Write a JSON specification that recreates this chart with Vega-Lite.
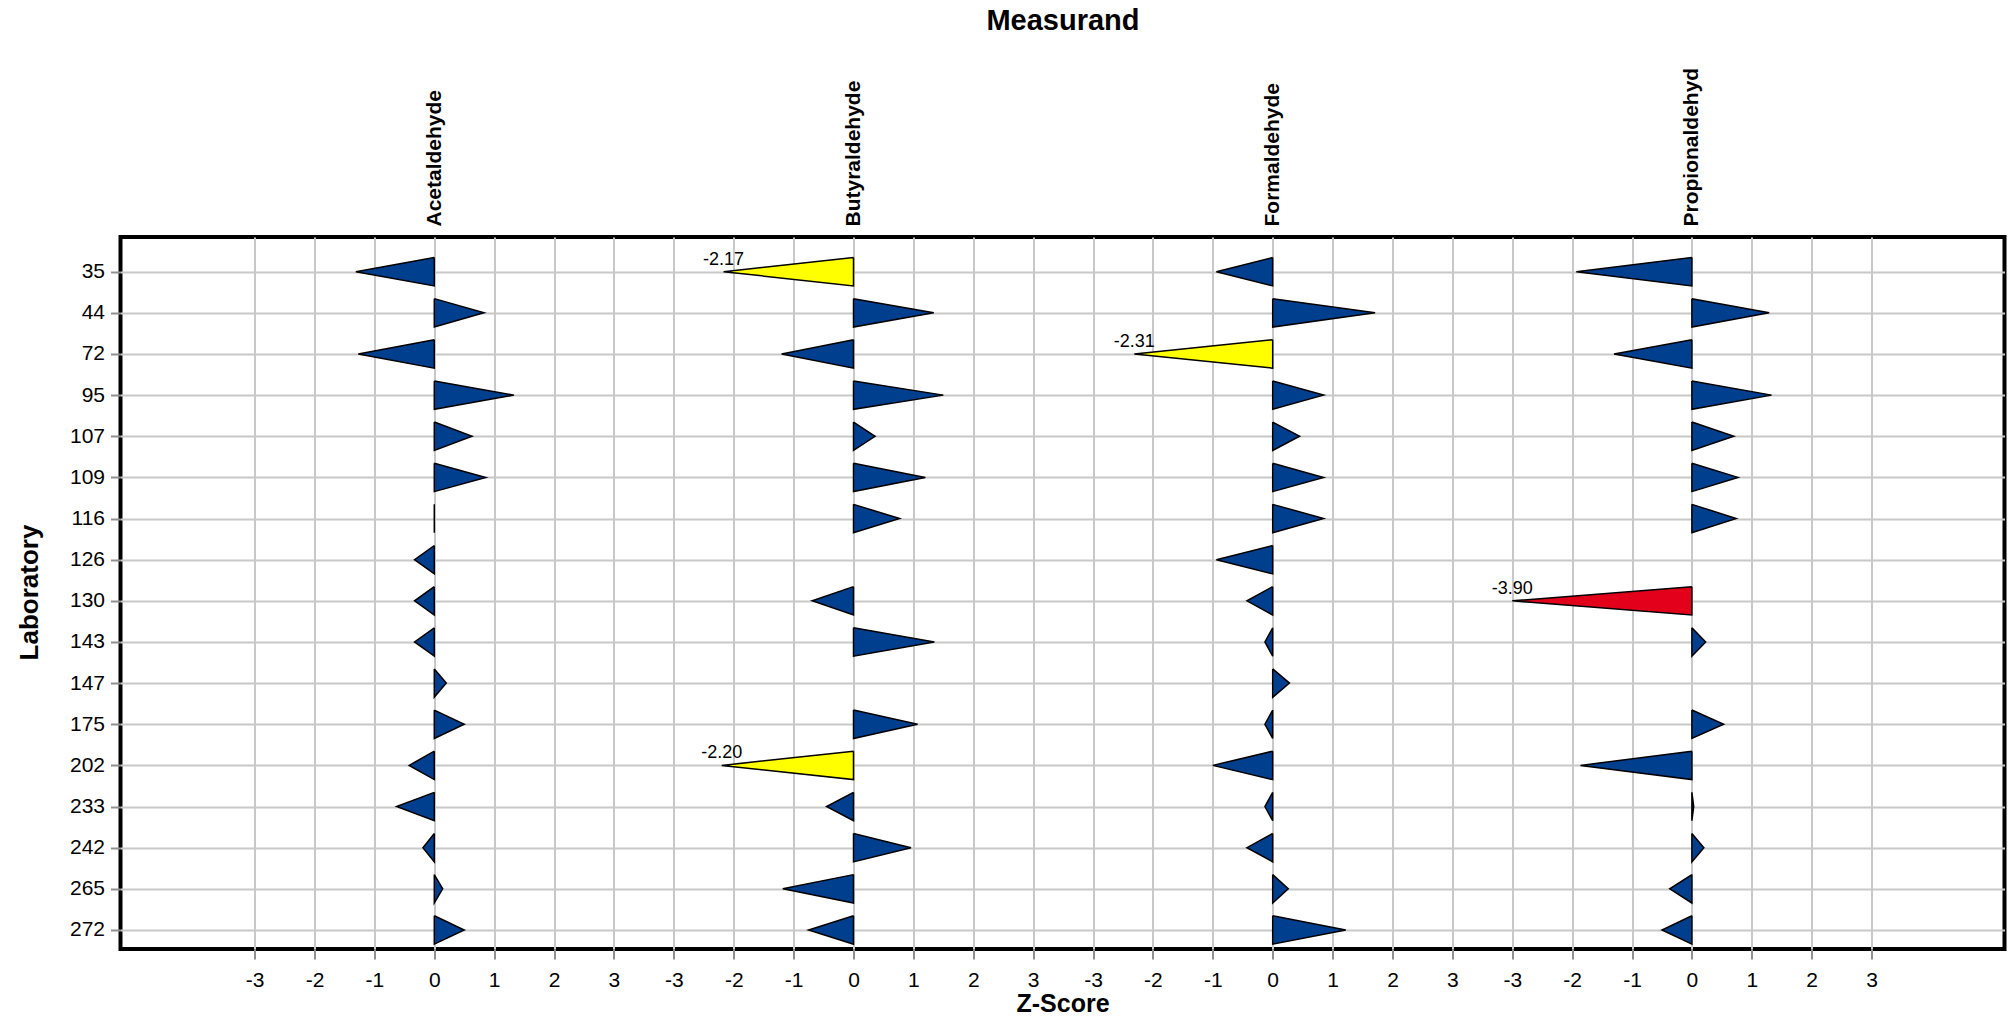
{
  "$schema": "https://vega.github.io/schema/vega-lite/v6.json",
  "width": 1884,
  "height": 712,
  "autosize": {"type": "none"},
  "padding": {"left": 120.5, "top": 237, "right": 6.5, "bottom": 74},
  "background": "white",
  "config": {
    "font": "Liberation Sans",
    "view": {"stroke": "black", "strokeWidth": 4},
    "locale": {"number": {"decimal": ".", "thousands": ",", "grouping": [3], "currency": ["$", ""], "minus": "-"}}
  },
  "data": {
    "values": [
      {"measurand": "Acetaldehyde", "lab": 35, "z": -1.31},
      {"measurand": "Acetaldehyde", "lab": 44, "z": 0.83},
      {"measurand": "Acetaldehyde", "lab": 72, "z": -1.27},
      {"measurand": "Acetaldehyde", "lab": 95, "z": 1.33},
      {"measurand": "Acetaldehyde", "lab": 107, "z": 0.63},
      {"measurand": "Acetaldehyde", "lab": 109, "z": 0.86},
      {"measurand": "Acetaldehyde", "lab": 116, "z": 0.0},
      {"measurand": "Acetaldehyde", "lab": 126, "z": -0.33},
      {"measurand": "Acetaldehyde", "lab": 130, "z": -0.33},
      {"measurand": "Acetaldehyde", "lab": 143, "z": -0.33},
      {"measurand": "Acetaldehyde", "lab": 147, "z": 0.2},
      {"measurand": "Acetaldehyde", "lab": 175, "z": 0.5},
      {"measurand": "Acetaldehyde", "lab": 202, "z": -0.42},
      {"measurand": "Acetaldehyde", "lab": 233, "z": -0.63},
      {"measurand": "Acetaldehyde", "lab": 242, "z": -0.19},
      {"measurand": "Acetaldehyde", "lab": 265, "z": 0.14},
      {"measurand": "Acetaldehyde", "lab": 272, "z": 0.5},
      {"measurand": "Butyraldehyde", "lab": 35, "z": -2.17},
      {"measurand": "Butyraldehyde", "lab": 44, "z": 1.34},
      {"measurand": "Butyraldehyde", "lab": 72, "z": -1.2},
      {"measurand": "Butyraldehyde", "lab": 95, "z": 1.5},
      {"measurand": "Butyraldehyde", "lab": 107, "z": 0.36},
      {"measurand": "Butyraldehyde", "lab": 109, "z": 1.2},
      {"measurand": "Butyraldehyde", "lab": 116, "z": 0.77},
      {"measurand": "Butyraldehyde", "lab": 130, "z": -0.69},
      {"measurand": "Butyraldehyde", "lab": 143, "z": 1.35},
      {"measurand": "Butyraldehyde", "lab": 175, "z": 1.07},
      {"measurand": "Butyraldehyde", "lab": 202, "z": -2.2},
      {"measurand": "Butyraldehyde", "lab": 233, "z": -0.45},
      {"measurand": "Butyraldehyde", "lab": 242, "z": 0.96},
      {"measurand": "Butyraldehyde", "lab": 265, "z": -1.18},
      {"measurand": "Butyraldehyde", "lab": 272, "z": -0.75},
      {"measurand": "Formaldehyde", "lab": 35, "z": -0.94},
      {"measurand": "Formaldehyde", "lab": 44, "z": 1.71},
      {"measurand": "Formaldehyde", "lab": 72, "z": -2.31},
      {"measurand": "Formaldehyde", "lab": 95, "z": 0.85},
      {"measurand": "Formaldehyde", "lab": 107, "z": 0.45},
      {"measurand": "Formaldehyde", "lab": 109, "z": 0.85},
      {"measurand": "Formaldehyde", "lab": 116, "z": 0.85},
      {"measurand": "Formaldehyde", "lab": 126, "z": -0.94},
      {"measurand": "Formaldehyde", "lab": 130, "z": -0.43},
      {"measurand": "Formaldehyde", "lab": 143, "z": -0.13},
      {"measurand": "Formaldehyde", "lab": 147, "z": 0.28},
      {"measurand": "Formaldehyde", "lab": 175, "z": -0.13},
      {"measurand": "Formaldehyde", "lab": 202, "z": -1.0},
      {"measurand": "Formaldehyde", "lab": 233, "z": -0.13},
      {"measurand": "Formaldehyde", "lab": 242, "z": -0.43},
      {"measurand": "Formaldehyde", "lab": 265, "z": 0.26},
      {"measurand": "Formaldehyde", "lab": 272, "z": 1.22},
      {"measurand": "Propionaldehyd", "lab": 35, "z": -1.93},
      {"measurand": "Propionaldehyd", "lab": 44, "z": 1.29},
      {"measurand": "Propionaldehyd", "lab": 72, "z": -1.3},
      {"measurand": "Propionaldehyd", "lab": 95, "z": 1.33},
      {"measurand": "Propionaldehyd", "lab": 107, "z": 0.7},
      {"measurand": "Propionaldehyd", "lab": 109, "z": 0.77},
      {"measurand": "Propionaldehyd", "lab": 116, "z": 0.74},
      {"measurand": "Propionaldehyd", "lab": 130, "z": -3.9},
      {"measurand": "Propionaldehyd", "lab": 143, "z": 0.23},
      {"measurand": "Propionaldehyd", "lab": 175, "z": 0.53},
      {"measurand": "Propionaldehyd", "lab": 202, "z": -1.86},
      {"measurand": "Propionaldehyd", "lab": 233, "z": 0.03},
      {"measurand": "Propionaldehyd", "lab": 242, "z": 0.2},
      {"measurand": "Propionaldehyd", "lab": 265, "z": -0.37},
      {"measurand": "Propionaldehyd", "lab": 272, "z": -0.5}
    ]
  },
  "transform": [
    {"calculate": "7*indexof(['Acetaldehyde','Butyraldehyde','Formaldehyde','Propionaldehyd'], datum.measurand)", "as": "base"},
    {"calculate": "datum.base + clamp(datum.z, -3, 3)", "as": "tip"},
    {"window": [{"op": "dense_rank", "as": "rank"}], "sort": [{"field": "lab", "order": "ascending"}]},
    {"calculate": "datum.base", "as": "v0"},
    {"calculate": "datum.tip", "as": "v1"},
    {"calculate": "datum.base", "as": "v2"},
    {"calculate": "datum.base", "as": "v3"}
  ],
  "layer": [
    {
      "transform": [
        {"fold": ["v0", "v1", "v2", "v3"], "as": ["vk", "vx"]},
        {"calculate": "indexof(['v0','v1','v2','v3'], datum.vk)", "as": "vi"},
        {"calculate": "datum.rank + 0.345*[-1, 0, 1, -1][datum.vi]", "as": "yy"}
      ],
      "mark": {"type": "line", "filled": true, "stroke": "black", "strokeWidth": 1.5, "strokeJoin": "miter", "opacity": 1, "interpolate": "linear"},
      "encoding": {
        "x": {
          "field": "vx", "type": "quantitative",
          "scale": {"domain": [-5.24, 26.22], "nice": false, "zero": false},
          "axis": {
            "orient": "bottom",
            "values": [-3, -2, -1, 0, 1, 2, 3, 4, 5, 6, 7, 8, 9, 10, 11, 12, 13, 14, 15, 16, 17, 18, 19, 20, 21, 22, 23, 24],
            "labelExpr": "datum.value - 7*round(datum.value/7)",
            "grid": true, "gridColor": "#c8c8c8", "gridWidth": 2,
            "domain": false,
            "tickColor": "#909090", "tickWidth": 2, "tickSize": 10,
            "labelFontSize": 21, "labelColor": "black", "labelPadding": 10,
            "labelOverlap": false, "labelFlush": false,
            "title": "Z-Score", "titleFontSize": 25, "titleFontWeight": "bold", "titleColor": "black",
            "titleBaseline": "alphabetic", "titleY": 62
          }
        },
        "y": {
          "field": "yy", "type": "quantitative",
          "scale": {"domain": [0.1565, 17.463], "reverse": true, "nice": false, "zero": false},
          "axis": null
        },
        "order": {"field": "vi", "type": "quantitative"},
        "detail": [{"field": "lab"}, {"field": "measurand"}],
        "fill": {
          "condition": [
            {"test": "abs(datum.z) >= 3", "value": "#e2001a"},
            {"test": "abs(datum.z) >= 2", "value": "#ffff00"}
          ],
          "value": "#003e8e"
        }
      }
    },
    {
      "mark": {"type": "text", "fontSize": 18, "dy": -7, "baseline": "alphabetic", "align": "center", "color": "black"},
      "encoding": {
        "x": {
          "field": "tip", "type": "quantitative",
          "scale": {"domain": [-5.24, 26.22], "nice": false, "zero": false},
          "axis": {
            "orient": "top",
            "values": [0, 7, 14, 21],
            "labelExpr": "['Acetaldehyde','Butyraldehyde','Formaldehyde','Propionaldehyd'][round(datum.value/7)]",
            "labelAngle": -90, "labelAlign": "left", "labelBaseline": "middle",
            "labelFontSize": 21, "labelFontWeight": "bold", "labelColor": "black",
            "labelPadding": 11, "labelLimit": 0, "labelOverlap": false, "labelFlush": false,
            "ticks": false, "tickSize": 0, "domain": false, "grid": false,
            "title": "Measurand", "titleFontSize": 29, "titleFontWeight": "bold", "titleColor": "black",
            "titleBaseline": "alphabetic", "titleY": -208
          }
        },
        "y": {
          "field": "lab", "type": "ordinal",
          "scale": {"type": "point", "padding": 0.6535, "align": 0.6455},
          "axis": {
            "grid": true, "gridColor": "#c8c8c8", "gridWidth": 2,
            "domain": false,
            "tickColor": "#909090", "tickWidth": 2, "tickSize": 10,
            "labelFontSize": 21, "labelColor": "black", "labelPadding": 6,
            "title": "Laboratory", "titleFontSize": 26, "titleFontWeight": "bold", "titleColor": "black",
            "titleAngle": 270, "titleBaseline": "alphabetic", "titleX": -83, "titleY": 355
          }
        },
        "text": {
          "condition": {"test": "abs(datum.z) >= 2", "field": "z", "type": "quantitative", "format": ".2f"},
          "value": ""
        }
      }
    }
  ],
  "resolve": {"axis": {"x": "independent"}, "scale": {"y": "independent"}}
}
